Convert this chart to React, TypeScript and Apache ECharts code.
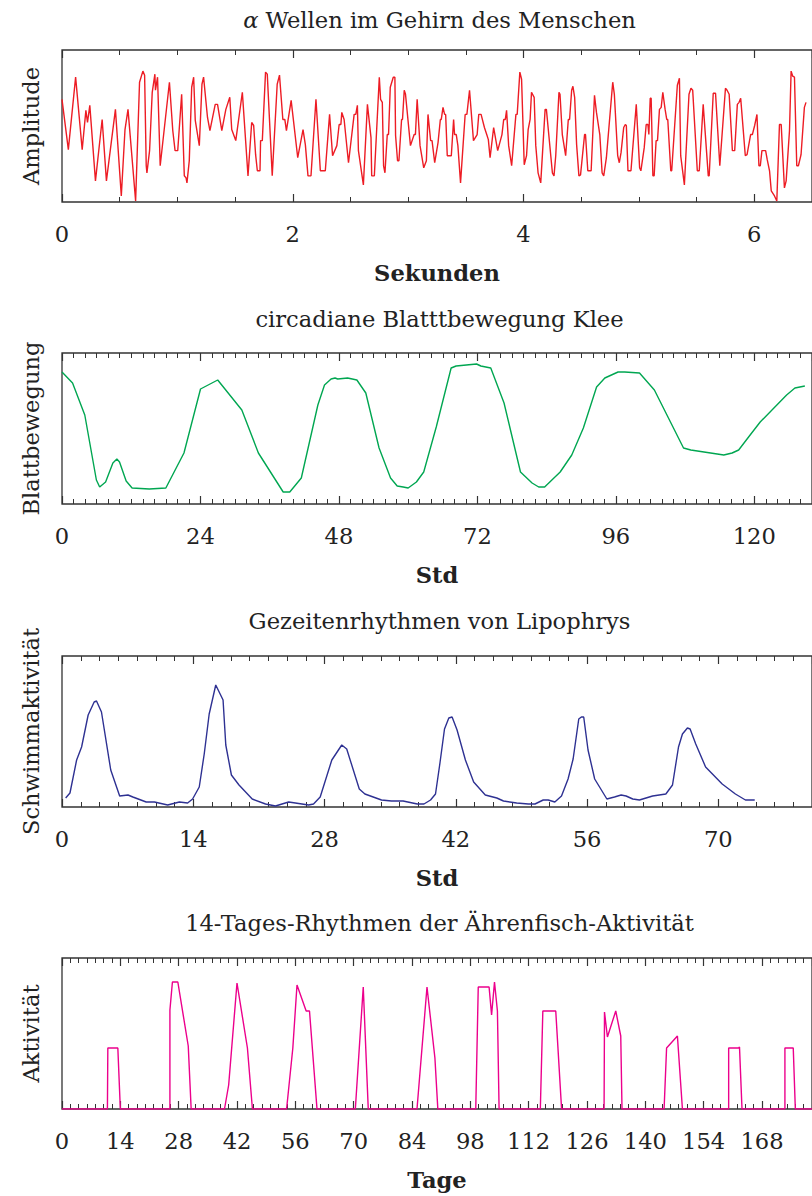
import React, { useEffect, useRef } from "react";
import * as echarts from "echarts";

// ---------- Panel 1: alpha waves (seconds, amplitude) ----------
const alphaSeconds = [
  0, 0.055, 0.118, 0.175, 0.207, 0.221, 0.241, 0.29, 0.348, 0.385, 0.463, 0.514, 0.546, 0.572, 0.601, 0.638,
  0.672, 0.701, 0.716, 0.73, 0.736, 0.759, 0.782, 0.805, 0.81, 0.828, 0.851, 0.931, 0.96, 0.98, 1.003, 1.037,
  1.06, 1.075, 1.083, 1.103, 1.124, 1.141, 1.155, 1.19, 1.213, 1.227, 1.261, 1.282, 1.328, 1.348, 1.385, 1.42,
  1.454, 1.471, 1.506, 1.563, 1.612, 1.644, 1.661, 1.678, 1.693, 1.716, 1.721, 1.736, 1.764, 1.779, 1.822, 1.865,
  1.885, 1.914, 1.931, 1.945, 1.986, 2.043, 2.089, 2.109, 2.132, 2.158, 2.201, 2.239, 2.282, 2.319, 2.345, 2.382,
  2.402, 2.417, 2.425, 2.445, 2.483, 2.532, 2.546, 2.56, 2.569, 2.612, 2.647, 2.678, 2.684, 2.707, 2.75, 2.761,
  2.776, 2.787, 2.799, 2.819, 2.83, 2.845, 2.871, 2.885, 2.891, 2.908, 2.92, 2.943, 2.951, 2.966, 2.977, 3.02,
  3.052, 3.063, 3.078, 3.103, 3.135, 3.158, 3.172, 3.195, 3.207, 3.23, 3.259, 3.279, 3.287, 3.302, 3.316, 3.325,
  3.339, 3.374, 3.394, 3.402, 3.417, 3.431, 3.454, 3.494, 3.509, 3.532, 3.566, 3.598, 3.612, 3.632, 3.661, 3.681,
  3.695, 3.71, 3.741, 3.776, 3.813, 3.828, 3.842, 3.853, 3.871, 3.897, 3.934, 3.945, 3.968, 3.983, 4.006, 4.026,
  4.04, 4.057, 4.069, 4.092, 4.106, 4.126, 4.149, 4.187, 4.198, 4.25, 4.264, 4.279, 4.307, 4.316, 4.336, 4.365,
  4.388, 4.399, 4.417, 4.428, 4.443, 4.46, 4.48, 4.494, 4.529, 4.537, 4.557, 4.586, 4.615, 4.632, 4.661, 4.681,
  4.695, 4.718, 4.773, 4.787, 4.816, 4.83, 4.845, 4.868, 4.882, 4.891, 4.905, 4.931, 4.977, 5.006, 5.017, 5.046,
  5.063, 5.078, 5.086, 5.098, 5.106, 5.121, 5.132, 5.149, 5.161, 5.178, 5.193, 5.207, 5.227, 5.241, 5.25, 5.276,
  5.284, 5.333, 5.351, 5.362, 5.394, 5.434, 5.451, 5.466, 5.506, 5.523, 5.557, 5.601, 5.609, 5.644, 5.664, 5.701,
  5.75, 5.764, 5.782, 5.81, 5.83, 5.853, 5.868, 5.882, 5.922, 5.937, 5.968, 5.983, 6.003, 6.023, 6.04, 6.052,
  6.066, 6.098, 6.112, 6.132, 6.147, 6.175, 6.195, 6.218, 6.233, 6.261, 6.276, 6.305, 6.319, 6.333, 6.348, 6.368,
  6.382, 6.405, 6.434, 6.448,
];
const alphaAmplitude = [
  102, 52, 124, 52, 91, 79, 96, 21, 82, 21, 92, 6, 72, 92, 52, 1,
  119, 130, 126, 36, 29, 51, 109, 127, 111, 124, 36, 119, 71, 51, 51, 107,
  26, 24, 19, 41, 114, 124, 81, 56, 117, 124, 84, 71, 97, 97, 71, 92,
  104, 72, 61, 109, 26, 79, 76, 47, 31, 31, 61, 61, 129, 127, 26, 117,
  126, 82, 82, 71, 101, 44, 72, 57, 26, 26, 102, 31, 31, 87, 46, 56,
  77, 77, 89, 82, 39, 87, 87, 96, 51, 17, 97, 64, 26, 26, 124, 102,
  99, 36, 29, 67, 67, 114, 124, 124, 66, 41, 41, 82, 82, 111, 107, 56,
  67, 67, 102, 56, 34, 41, 87, 61, 61, 39, 59, 82, 82, 94, 87, 87,
  46, 46, 82, 67, 67, 56, 19, 87, 87, 111, 61, 67, 87, 87, 74, 67,
  62, 44, 74, 51, 67, 82, 82, 91, 56, 36, 87, 87, 129, 122, 37, 46,
  72, 82, 109, 104, 56, 29, 19, 92, 92, 29, 26, 46, 109, 107, 67, 46,
  82, 82, 111, 115, 104, 57, 26, 27, 67, 67, 31, 31, 106, 89, 67, 29,
  26, 44, 119, 107, 46, 39, 49, 74, 77, 76, 31, 31, 97, 34, 31, 54,
  77, 77, 67, 103, 103, 26, 26, 61, 61, 92, 94, 109, 92, 82, 82, 31,
  31, 116, 123, 46, 17, 107, 113, 111, 31, 31, 97, 26, 26, 108, 108, 36,
  113, 111, 107, 51, 51, 97, 99, 103, 46, 47, 67, 67, 76, 87, 36, 36,
  51, 51, 42, 31, 11, 6, 1, 77, 77, 14, 21, 71, 130, 125, 124, 36,
  36, 47, 94, 99,
];

// ---------- Panel 2: circadian leaf movement (hours, movement) ----------
const leafHours = [
  0, 1.83, 3.95, 5.96, 6.53, 7.56, 8.82, 9.51, 9.97, 11.12, 12.15, 15.13, 18.0, 21.14, 24.01, 26.99,
  31.17, 34.04, 38.34, 39.48, 41.48, 44.35, 45.5, 46.64, 47.33, 47.79, 49.51, 51.11, 52.66, 54.96, 56.95, 58.1,
  59.14, 60.0, 61.43, 62.7, 64.87, 67.45, 68.31, 71.86, 72.6, 74.32, 76.62, 79.47, 81.48, 82.63, 83.66, 86.35,
  88.36, 90.37, 92.66, 94.09, 96.38, 97.53, 100.1, 102.68, 107.73, 108.99, 114.71, 116.15, 117.29, 119.01, 121.02, 125.6,
  127.04, 128.76,
];
const leafMovement = [
  132, 121, 89, 24, 17, 22, 41, 45, 42, 23, 16, 15, 16, 51, 115, 124,
  94, 51, 12, 12, 26, 99, 119, 125, 126, 125, 126, 124, 111, 56, 26, 18,
  17, 16, 22, 32, 77, 136, 138, 140, 138, 136, 101, 32, 21, 17, 17, 32,
  49, 76, 117, 126, 132, 132, 131, 114, 56, 54, 49, 51, 54, 67, 82, 109,
  116, 118,
];

// ---------- Panel 3: tidal rhythm of Lipophrys (hours, swimming activity) ----------
const tideHours = [
  0.39, 0.85, 1.56, 2.09, 2.79, 3.43, 3.68, 4.21, 5.2, 6.15, 7.04, 7.56, 8.98, 9.86, 11.27, 12.52,
  13.4, 13.93, 14.64, 15.17, 15.7, 16.4, 17.18, 17.47, 18.07, 18.88, 20.29, 21.71, 22.77, 23.47, 24.18, 24.89,
  26.3, 26.83, 27.54, 28.78, 29.84, 30.37, 31.71, 32.31, 34.08, 35.14, 36.38, 37.9, 38.61, 39.31, 39.84, 40.3,
  40.8, 41.26, 41.61, 42.14, 43.03, 43.91, 45.15, 46.38, 47.09, 48.5, 49.74, 50.45, 51.33, 51.86, 52.57, 53.28,
  53.98, 54.52, 55.12, 55.4, 55.65, 56.11, 56.82, 58.12, 58.93, 59.64, 60.17, 60.88, 61.59, 63.0, 64.41, 65.12,
  65.76, 66.18, 66.71, 67.0, 67.6, 68.65, 70.42, 71.83, 72.9, 73.89,
];
const swimActivity = [
  9, 14, 47, 60, 92, 105, 106, 95, 37, 11, 12, 10, 5, 5, 2, 5,
  4, 8, 20, 53, 93, 122, 107, 62, 32, 22, 8, 3, 1, 3, 5, 4,
  2, 3, 10, 47, 62, 58, 18, 13, 7, 6, 6, 3, 3, 7, 13, 43,
  78, 89, 90, 77, 47, 25, 12, 9, 6, 4, 3, 3, 7, 7, 5, 11,
  28, 48, 88, 90, 90, 57, 28, 8, 10, 12, 11, 8, 7, 11, 13, 22,
  60, 73, 79, 78, 63, 40, 23, 13, 7, 7,
];

// ---------- Panel 4: 14-day rhythm of silverside activity (days, activity) ----------
const fishDays = [
  0, 10.9, 11, 13.4, 14, 25.9, 25.9, 26.5, 27.8, 30.3, 31, 39, 40, 42, 44.5, 45.7,
  53.9, 55.4, 56.4, 58.6, 59.4, 61.2, 70.4, 72.3, 73.5, 85.2, 87.6, 89.5, 90.2, 99.3, 99.9, 102.5,
  103.1, 103.8, 104.5, 104.9, 114.8, 115.4, 118.5, 119.9, 130.1, 130.2, 130.9, 132.9, 134.1, 134.4, 144.5, 145.1,
  147.7, 148.9, 160, 160, 162.4, 162.6, 163.2, 173.5, 173.5, 175.5, 176, 180,
];
const fishActivity = [
  0, 0, 61, 61, 0, 0, 99, 127, 127, 63, 0, 0, 24, 126, 61, 0,
  0, 61, 124, 98, 98, 0, 0, 122, 0, 0, 122, 51, 0, 0, 122, 122,
  94, 127, 98, 0, 0, 98, 98, 0, 0, 97, 72, 98, 73, 0, 0, 61,
  73, 0, 0, 61, 61, 62, 0, 0, 61, 61, 0, 0,
];

const titles = [
  "{a|α} Wellen im Gehirn des Menschen",
  "circadiane Blatttbewegung Klee",
  "Gezeitenrhythmen von Lipophrys",
  "14-Tages-Rhythmen der Ährenfisch-Aktivität",
];
const yNames = ["Amplitude", "Blattbewegung", "Schwimmaktivität", "Aktivität"];
const xNames = ["Sekunden", "Std", "Std", "Tage"];
const xMax = [6.5, 130, 80, 180];
const xMajor = [2, 24, 14, 14];
const xMinor = [0.5, 2, 2, 2];
const colors = ["#ed1c24", "#00a651", "#2e3192", "#ec008c"];

const FONT = "DejaVu Serif";
const TEXT = "#222";
const FRAME = "#333";
const FS = 22.6;

const gridTops = [50, 353, 656, 958];
const gridHeights = [152, 151, 151, 151];
const titleYs = [20, 319, 621, 923];
const GRID_LEFT = 62;
const GRID_WIDTH = 755;

function zip(xs: number[], ys: number[]) {
  return xs.map((x, i) => [x, ys[i]]);
}

export default function App() {
  const ref = useRef<HTMLDivElement>(null);

  useEffect(() => {
    if (!ref.current) return;
    const chart = echarts.init(ref.current, undefined, { renderer: "svg" });

    const datasets = [
      zip(alphaSeconds, alphaAmplitude),
      zip(leafHours, leafMovement),
      zip(tideHours, swimActivity),
      zip(fishDays, fishActivity),
    ];

    const grids: any[] = [];
    const xAxes: any[] = [];
    const yAxes: any[] = [];
    const series: any[] = [];
    const graphics: any[] = [];

    for (let i = 0; i < 4; i++) {
      grids.push({
        left: GRID_LEFT,
        top: gridTops[i],
        width: GRID_WIDTH,
        height: gridHeights[i],
        show: true,
        borderColor: FRAME,
        borderWidth: 1.3,
        backgroundColor: "transparent",
      });
      const base = {
        gridIndex: i,
        type: "value",
        min: 0,
        max: xMax[i],
        axisLine: { show: false },
        splitLine: { show: false },
      };
      const majorIdx = xAxes.length + 1;
      for (const pos of ["bottom", "top"]) {
        xAxes.push({
          ...base,
          position: pos,
          interval: xMinor[i],
          axisTick: { show: true, inside: true, length: 5, lineStyle: { color: FRAME, width: 1 } },
          axisLabel: { show: false },
        });
        xAxes.push({
          ...base,
          position: pos,
          interval: xMajor[i],
          axisTick: { show: true, inside: true, length: 8, lineStyle: { color: FRAME, width: 1.2 } },
          axisLabel:
            pos === "bottom"
              ? {
                  show: true,
                  margin: 20,
                  fontSize: FS,
                  fontFamily: FONT,
                  color: TEXT,
                  showMaxLabel: false,
                  showMinLabel: true,
                  hideOverlap: false,
                }
              : { show: false },
          name: pos === "bottom" ? xNames[i] : "",
          nameLocation: "middle",
          nameGap: 59,
          nameTextStyle: { fontSize: FS, fontFamily: FONT, color: TEXT, fontWeight: "bold" },
        });
      }
      yAxes.push({
        gridIndex: i,
        type: "value",
        min: 0,
        max: 151,
        axisLine: { show: false },
        axisTick: { show: false },
        axisLabel: { show: false },
        splitLine: { show: false },
        name: yNames[i],
        nameLocation: "middle",
        nameGap: 20,
        nameTextStyle: { fontSize: FS, fontFamily: FONT, color: TEXT },
      });
      series.push({
        type: "line",
        xAxisIndex: majorIdx,
        yAxisIndex: i,
        data: datasets[i],
        showSymbol: false,
        symbol: "none",
        lineStyle: { color: colors[i], width: 1.4 },
        z: 5,
      });
      graphics.push({
        type: "text",
        x: GRID_LEFT + GRID_WIDTH / 2,
        y: titleYs[i],
        style: {
          text: titles[i],
          fill: TEXT,
          fontSize: FS,
          fontFamily: FONT,
          align: "center",
          verticalAlign: "middle",
          rich: {
            a: { fontSize: FS, fontFamily: FONT, fontStyle: "italic", fill: TEXT },
          },
        },
      });
    }

    chart.setOption({
      animation: false,
      backgroundColor: "#ffffff",
      grid: grids,
      xAxis: xAxes,
      yAxis: yAxes,
      series,
      graphic: graphics,
    });

    return () => chart.dispose();
  }, []);

  return (
    <div
      ref={ref}
      style={{ position: "absolute", left: 0, top: 0, width: 812, height: 1196 }}
    />
  );
}
